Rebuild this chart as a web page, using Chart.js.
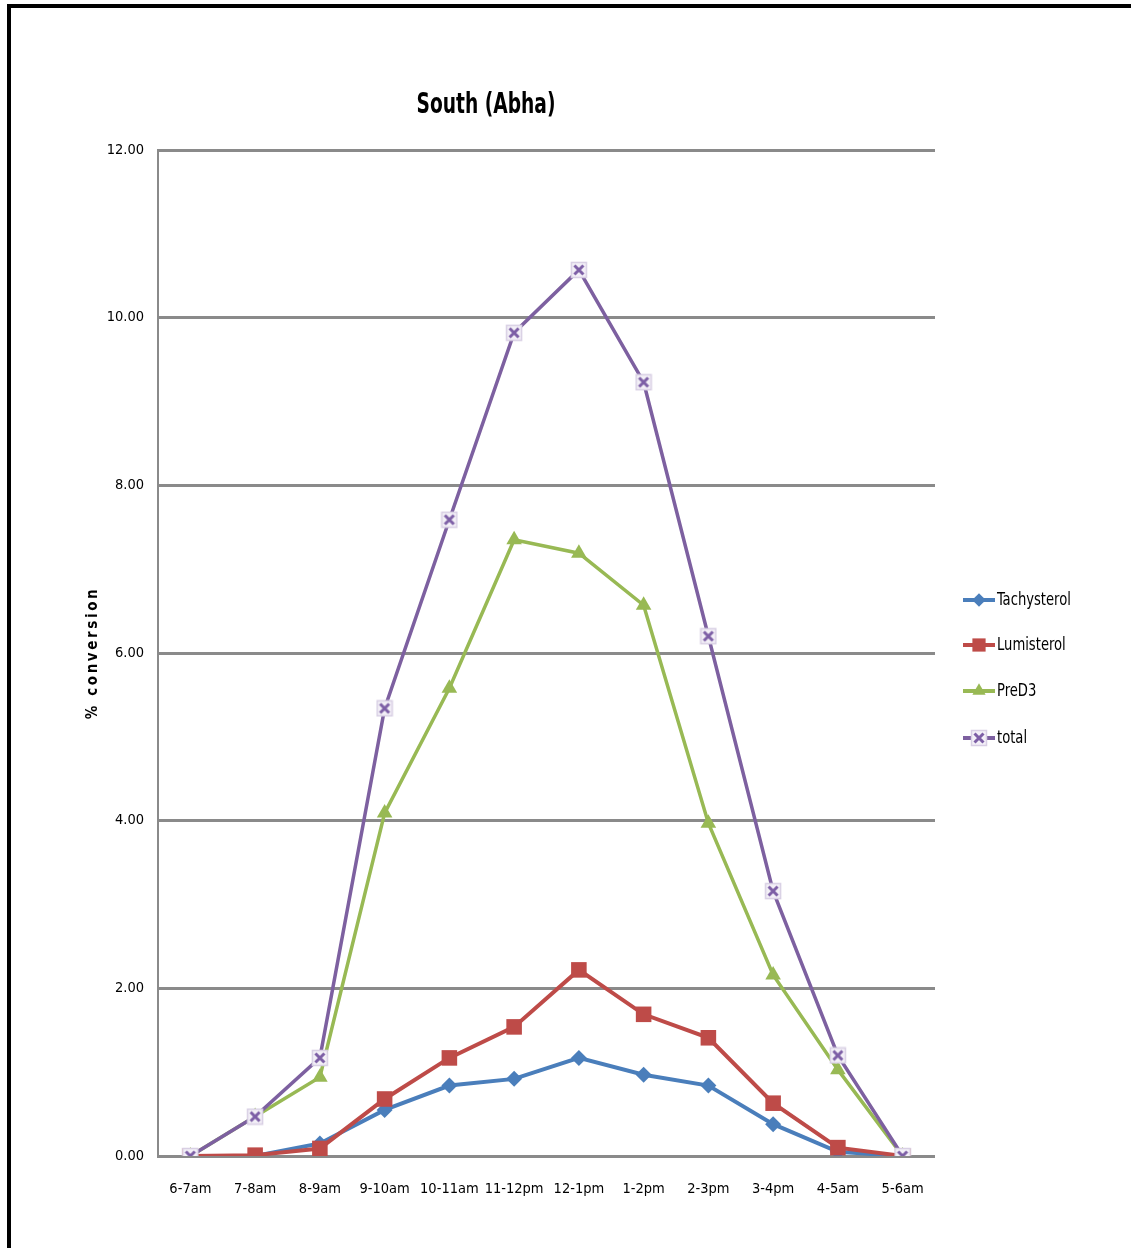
<!DOCTYPE html>
<html>
<head>
<meta charset="utf-8">
<script src="https://cdn.jsdelivr.net/npm/chart.js@4/dist/chart.umd.min.js"></script>
<style>
  html, body { margin: 0; padding: 0; background: #fff; }
  #wrap { position: relative; width: 1131px; height: 1248px; overflow: hidden; }
  #frame { position: absolute; left: 7px; top: 4px; width: 1131px; height: 1260px;
           border-top: 4px solid #000; border-left: 4px solid #000; box-sizing: border-box; }
  canvas { position: absolute; left: 0; top: 0; }
</style>
</head>
<body>
<div id="wrap">
  <div id="frame"></div>
  <canvas id="chart" width="1131" height="1248"></canvas>
</div>
<script>
// Hourly % conversion measured at Abha
const hours = ['6-7am', '7-8am', '8-9am', '9-10am', '10-11am', '11-12pm', '12-1pm', '1-2pm', '2-3pm', '3-4pm', '4-5am', '5-6am'];
const tachysterol = [0.00, 0.00, 0.15, 0.55, 0.84, 0.92, 1.17, 0.97, 0.84, 0.38, 0.05, 0.00];
const lumisterol  = [0.00, 0.01, 0.09, 0.68, 1.17, 1.54, 2.22, 1.69, 1.41, 0.63, 0.10, 0.00];
const preD3       = [0.00, 0.47, 0.94, 4.09, 5.58, 7.35, 7.19, 6.57, 3.97, 2.16, 1.03, 0.00];
const total       = [0.00, 0.47, 1.17, 5.34, 7.59, 9.82, 10.57, 9.23, 6.20, 3.16, 1.20, 0.00];
const yTicks      = [0, 2, 4, 6, 8, 10, 12];

const FONT = "'Liberation Sans Narrow', 'DejaVu Sans Condensed', 'Roboto Condensed', 'Liberation Sans', sans-serif";
Chart.defaults.font.family = FONT;
Chart.defaults.color = '#000';

// Excel-like "x" marker for the total series
function makeXMarker() {
  const c = document.createElement('canvas');
  c.width = 18; c.height = 18;
  const g = c.getContext('2d');
  g.fillStyle = '#F3F0F7';
  g.fillRect(1, 1, 16, 16);
  g.strokeStyle = '#D8CFE4';
  g.lineWidth = 1.5;
  g.strokeRect(1.5, 1.5, 15, 15);
  g.strokeStyle = '#7D5FA6';
  g.lineWidth = 3;
  g.beginPath();
  g.moveTo(4.5, 4.5); g.lineTo(13.5, 13.5);
  g.moveTo(13.5, 4.5); g.lineTo(4.5, 13.5);
  g.stroke();
  return c;
}
const xMarker = makeXMarker();

const series = [
  { label: 'Tachysterol', data: tachysterol, color: '#4A7EBB', style: 'rectRot', radius: 8, width: 4, order: 4 },
  { label: 'Lumisterol',  data: lumisterol,  color: '#BE4B48', style: 'rect',    radius: 11, width: 4, order: 3 },
  { label: 'PreD3',       data: preD3,       color: '#98B954', style: 'triangle', radius: 9, width: 3.5, order: 2 },
  { label: 'total',       data: total,       color: '#7D60A0', style: xMarker,   radius: 9, width: 3.5, order: 1 }
];

// Draws text squeezed horizontally so it reads like a narrow face
function narrowText(ctx, text, x, y, sx) {
  ctx.save();
  ctx.translate(x, y);
  ctx.scale(sx, 1);
  ctx.fillText(text, 0, 0);
  ctx.restore();
}

// Title, rotated axis title and a line+marker legend drawn onto the canvas
const decorations = {
  id: 'decorations',
  afterDraw(chart) {
    const ctx = chart.ctx;
    ctx.save();
    ctx.fillStyle = '#000';
    ctx.textBaseline = 'middle';

    ctx.font = `bold 28px ${FONT}`;
    ctx.textAlign = 'center';
    narrowText(ctx, 'South (Abha)', 486, 106, 0.74);

    ctx.save();
    ctx.translate(93, 653);
    ctx.rotate(-Math.PI / 2);
    ctx.font = `bold 15px ${FONT}`;
    ctx.letterSpacing = '2.6px';
    ctx.fillText('% conversion', 0, 0);
    ctx.restore();

    const rows = [600, 645, 691, 738];
    chart.data.datasets.forEach((ds, i) => {
      const y = rows[i];
      ctx.strokeStyle = ds.borderColor;
      ctx.lineWidth = 4;
      ctx.beginPath();
      ctx.moveTo(963, y);
      ctx.lineTo(995, y);
      ctx.stroke();
      ctx.fillStyle = ds.pointBackgroundColor;
      ctx.strokeStyle = ds.pointBackgroundColor;
      Chart.helpers.drawPoint(ctx, {
        pointStyle: ds.pointStyle,
        radius: typeof ds.pointStyle === 'string' ? ds.pointRadius * 0.85 : ds.pointRadius,
        borderWidth: 0
      }, 979, y);
      ctx.fillStyle = '#000';
      ctx.font = `17px ${FONT}`;
      ctx.textAlign = 'left';
      narrowText(ctx, ds.label, 997, y + 1, 0.86);
    });
    ctx.restore();
  }
};

new Chart(document.getElementById('chart'), {
  type: 'line',
  data: {
    labels: hours,
    datasets: series.map(s => ({
      label: s.label,
      data: s.data,
      borderColor: s.color,
      backgroundColor: s.color,
      pointBackgroundColor: s.color,
      pointBorderColor: s.color,
      pointBorderWidth: 0,
      pointStyle: s.style,
      pointRadius: s.radius,
      borderWidth: s.width,
      tension: 0,
      order: s.order
    }))
  },
  options: {
    responsive: false,
    animation: false,
    devicePixelRatio: 1,
    layout: { padding: { left: 0, top: 150, right: 196, bottom: 42 } },
    plugins: { legend: { display: false }, tooltip: { enabled: false }, title: { display: false } },
    scales: {
      x: {
        offset: true,
        grid: { display: false },
        border: { display: false },
        ticks: { font: { size: 14.5 }, padding: 17, maxRotation: 0, autoSkip: false },
        afterFit(scale) { scale.height = 50; }
      },
      y: {
        min: 0,
        max: 12,
        afterBuildTicks(scale) { scale.ticks = yTicks.map(v => ({ value: v })); },
        grid: { color: '#8A8A8A', lineWidth: 3, drawTicks: false },
        border: { display: true, color: '#8A8A8A', width: 2 },
        ticks: { font: { size: 14.5 }, padding: 14, callback: v => Number(v).toFixed(2) },
        afterFit(scale) { scale.width = 158; }
      }
    }
  },
  plugins: [decorations]
});
</script>
</body>
</html>
